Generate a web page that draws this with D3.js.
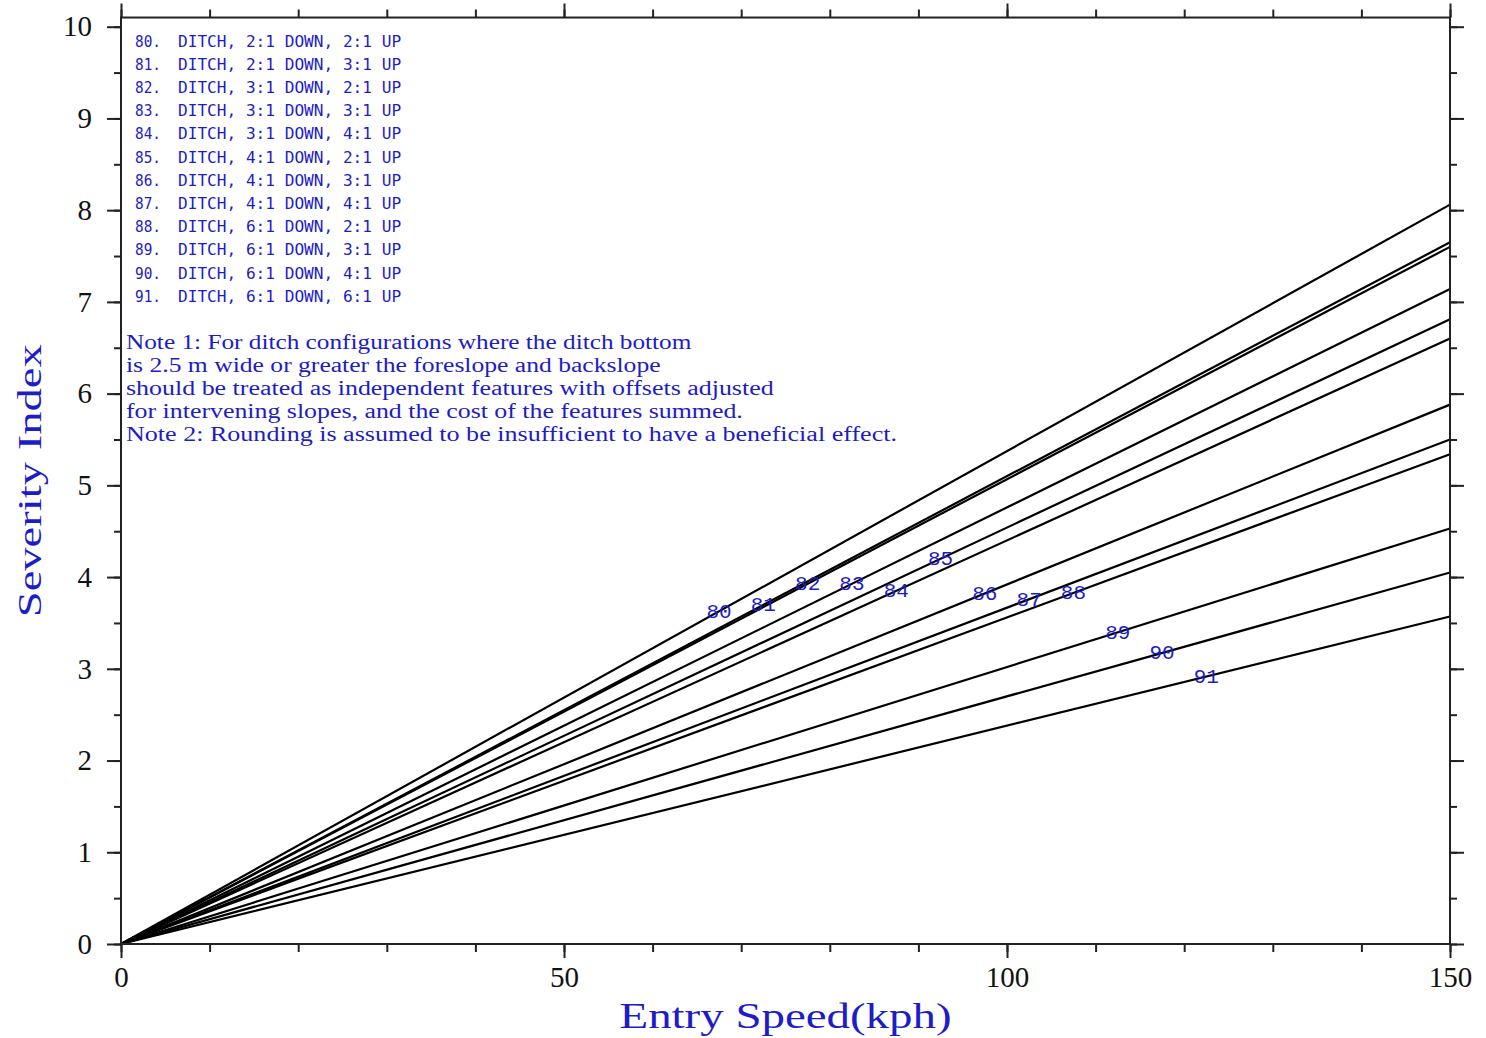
<!DOCTYPE html>
<html>
<head>
<meta charset="utf-8">
<script src="https://cdn.jsdelivr.net/npm/d3@7"></script>
<style>
    body { margin: 0; background: #fff; }
    svg { display: block; }
</style>
</head>
<body>
<svg id="chart" width="1486" height="1038"></svg>
<script>
// Ditch configurations: severity index at 150 kph (lines are linear from the origin)
const ids = [80, 81, 82, 83, 84, 85, 86, 87, 88, 89, 90, 91];
const descriptions = [
    "DITCH, 2:1 DOWN, 2:1 UP",
    "DITCH, 2:1 DOWN, 3:1 UP",
    "DITCH, 3:1 DOWN, 2:1 UP",
    "DITCH, 3:1 DOWN, 3:1 UP",
    "DITCH, 3:1 DOWN, 4:1 UP",
    "DITCH, 4:1 DOWN, 2:1 UP",
    "DITCH, 4:1 DOWN, 3:1 UP",
    "DITCH, 4:1 DOWN, 4:1 UP",
    "DITCH, 6:1 DOWN, 2:1 UP",
    "DITCH, 6:1 DOWN, 3:1 UP",
    "DITCH, 6:1 DOWN, 4:1 UP",
    "DITCH, 6:1 DOWN, 6:1 UP"
];
const speeds = [0, 150];
const severityAt150 = [8.06, 7.65, 7.60, 7.14, 6.60, 6.81, 5.88, 5.50, 5.34, 4.53, 4.05, 3.57];
// speed at which each line's number is written
const labelSpeeds = [67.5, 72.5, 77.5, 82.5, 87.5, 92.5, 97.5, 102.5, 107.5, 112.5, 117.5, 122.5];

const notes = [
    "Note 1: For ditch configurations where the ditch bottom",
    "is 2.5 m wide or greater the foreslope and backslope",
    "should be treated as independent features with offsets adjusted",
    "for intervening slopes, and the cost of the features summed.",
    "Note 2: Rounding is assumed to be insufficient to have a beneficial effect."
];

const xMajor = [0, 50, 100, 150];
const xMinor = d3.range(0, 151, 10);
const yMajor = d3.range(0, 11, 1);
const yMinor = d3.range(0, 10.01, 0.5);

const blue = "#1c1cc8";
const serif = "'Liberation Serif', 'DejaVu Serif', serif";
const mono = "'DejaVu Sans Mono', 'Liberation Mono', monospace";

const svg = d3.select("#chart");
const plot = { left: 121, right: 1450, bottom: 944, top: 26.7 };
const x = d3.scaleLinear().domain([0, 150]).range([plot.left, plot.right]);
const y = d3.scaleLinear().domain([0, 10]).range([plot.bottom, plot.top]);
const yMax = 10.1;

// Lines
const line = d3.line().x(d => x(d[0])).y(d => y(d[1]));
svg.append("g")
    .selectAll("path")
    .data(severityAt150)
    .join("path")
    .attr("d", v => line(speeds.map(s => [s, v * s / 150])))
    .attr("fill", "none")
    .attr("stroke", "#000")
    .attr("stroke-width", 2.2);

// Line numbers, centred on their line
svg.append("g")
    .selectAll("text")
    .data(ids)
    .join("text")
    .attr("x", (d, i) => x(labelSpeeds[i]))
    .attr("y", (d, i) => y(severityAt150[i] * labelSpeeds[i] / 150) + 1)
    .attr("text-anchor", "middle")
    .attr("dominant-baseline", "central")
    .attr("fill", blue)
    .style("font-family", "'Liberation Mono', monospace")
    .style("font-size", "21px")
    .text(d => d);

// Axes: outward ticks on all four sides
function styleAxis(g) {
    g.select(".domain").remove();
    g.selectAll(".tick line").attr("stroke", "#222").attr("stroke-width", 2);
    g.selectAll("text")
        .style("font-family", serif)
        .style("font-size", "29px")
        .attr("fill", "#111");
}

svg.append("g").attr("transform", `translate(0,${plot.bottom})`)
    .call(d3.axisBottom(x).tickValues(xMinor).tickSize(8).tickFormat(""))
    .call(styleAxis);
svg.append("g").attr("transform", `translate(0,${plot.bottom})`)
    .call(d3.axisBottom(x).tickValues(xMajor).tickSize(14).tickPadding(8).tickFormat(d3.format("d")))
    .call(styleAxis);
svg.append("g").attr("transform", `translate(0,${y(yMax)})`)
    .call(d3.axisTop(x).tickValues(xMinor).tickSize(8).tickFormat(""))
    .call(styleAxis);
svg.append("g").attr("transform", `translate(0,${y(yMax)})`)
    .call(d3.axisTop(x).tickValues(xMajor).tickSize(14).tickFormat(""))
    .call(styleAxis);

svg.append("g").attr("transform", `translate(${plot.left},0)`)
    .call(d3.axisLeft(y).tickValues(yMinor).tickSize(7).tickFormat(""))
    .call(styleAxis);
svg.append("g").attr("transform", `translate(${plot.left},0)`)
    .call(d3.axisLeft(y).tickValues(yMajor).tickSize(14).tickPadding(15).tickFormat(d3.format("d")))
    .call(styleAxis);
svg.append("g").attr("transform", `translate(${plot.right},0)`)
    .call(d3.axisRight(y).tickValues(yMinor).tickSize(7).tickFormat(""))
    .call(styleAxis);
svg.append("g").attr("transform", `translate(${plot.right},0)`)
    .call(d3.axisRight(y).tickValues(yMajor).tickSize(14).tickFormat(""))
    .call(styleAxis);

// Frame
svg.append("rect")
    .attr("x", plot.left)
    .attr("y", y(yMax))
    .attr("width", plot.right - plot.left)
    .attr("height", plot.bottom - y(yMax))
    .attr("fill", "none")
    .attr("stroke", "#222")
    .attr("stroke-width", 2);

// Legend
const legend = svg.append("g")
    .attr("fill", blue)
    .style("font-family", mono)
    .style("font-size", "16px");
legend.selectAll("text.num")
    .data(ids)
    .join("text")
    .attr("class", "num")
    .attr("x", 135)
    .attr("y", (d, i) => 46.5 + i * 23.2)
    .attr("textLength", 26)
    .attr("lengthAdjust", "spacingAndGlyphs")
    .text(d => d + ".");
legend.selectAll("text.desc")
    .data(descriptions)
    .join("text")
    .attr("class", "desc")
    .attr("x", 178)
    .attr("y", (d, i) => 46.5 + i * 23.2)
    .attr("textLength", d => d.length * 9.7)
    .attr("lengthAdjust", "spacingAndGlyphs")
    .text(d => d);

// Notes
svg.append("g")
    .selectAll("text")
    .data(notes)
    .join("text")
    .attr("x", 126)
    .attr("y", (d, i) => 348.5 + i * 23.2)
    .attr("textLength", d => d.length * 10.28)
    .attr("lengthAdjust", "spacingAndGlyphs")
    .attr("fill", blue)
    .style("font-family", serif)
    .style("font-size", "20px")
    .text(d => d);

// Axis titles
svg.append("text")
    .attr("x", (plot.left + plot.right) / 2)
    .attr("y", 1028)
    .attr("text-anchor", "middle")
    .attr("textLength", 332)
    .attr("lengthAdjust", "spacingAndGlyphs")
    .attr("fill", blue)
    .style("font-family", serif)
    .style("font-size", "36px")
    .text("Entry Speed(kph)");

svg.append("text")
    .attr("transform", `translate(41,${(y(yMax) + plot.bottom) / 2}) rotate(-90)`)
    .attr("text-anchor", "middle")
    .attr("textLength", 273)
    .attr("lengthAdjust", "spacingAndGlyphs")
    .attr("fill", blue)
    .style("font-family", serif)
    .style("font-size", "34px")
    .text("Severity Index");
</script>
</body>
</html>
